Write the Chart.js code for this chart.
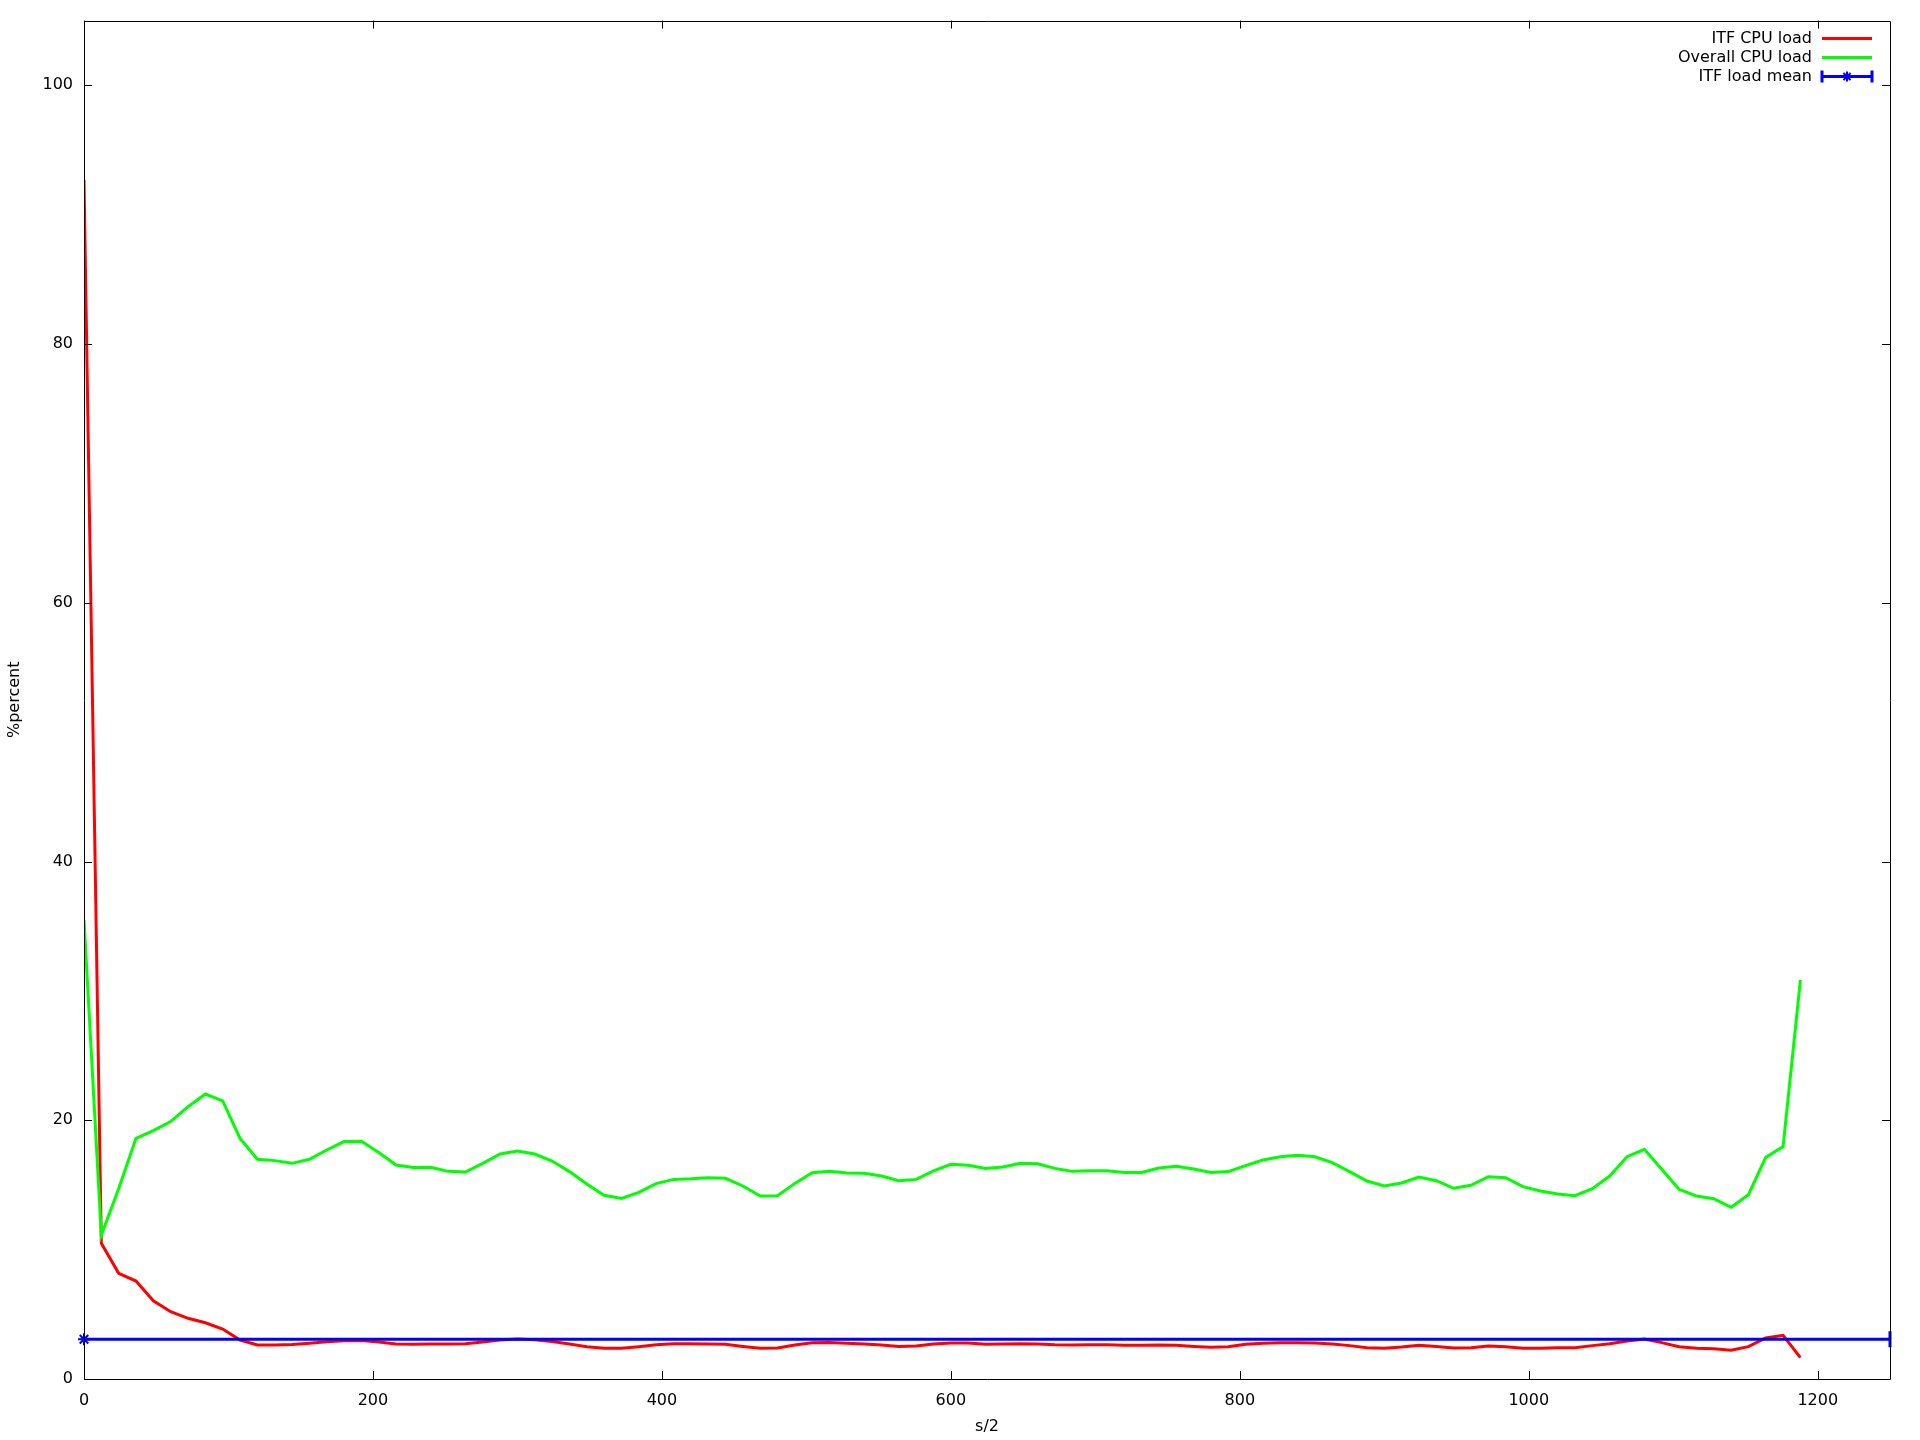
<!DOCTYPE html>
<html>
<head>
<meta charset="utf-8">
<script src="https://cdn.jsdelivr.net/npm/chart.js@4.4.1/dist/chart.umd.min.js"></script>
<style>
  body { margin: 0; background: #fff; }
</style>
</head>
<body>
<canvas id="chart" width="1920" height="1440"></canvas>
<script>
// sample positions (s/2)
const samples = [
  0, 12, 24, 36, 48, 60, 72, 84, 96, 108, 120, 132, 144, 156, 168, 180, 192, 204, 216, 228,
  240, 252, 264, 276, 288, 300, 312, 324, 336, 348, 360, 372, 384, 396, 408, 420, 432, 444, 456, 468,
  480, 492, 504, 516, 528, 540, 552, 564, 576, 588, 600, 612, 624, 636, 648, 660, 672, 684, 696, 708,
  720, 732, 744, 756, 768, 780, 792, 804, 816, 828, 840, 852, 864, 876, 888, 900, 912, 924, 936, 948,
  960, 972, 984, 996, 1008, 1020, 1032, 1044, 1056, 1068, 1080, 1092, 1104, 1116, 1128, 1140, 1152, 1164, 1176, 1188
];

const itfLoad = [
  92.7, 10.49, 8.17, 7.57, 6.05, 5.2, 4.69, 4.35, 3.86, 3.01, 2.63, 2.63, 2.66, 2.76, 2.88, 2.96, 2.98, 2.86,
  2.71, 2.68, 2.71, 2.71, 2.73, 2.86, 3.01, 3.09, 3.04, 2.89, 2.71, 2.5, 2.37, 2.37, 2.5, 2.65,
  2.73, 2.73, 2.71, 2.68, 2.52, 2.37, 2.40, 2.63, 2.81, 2.83, 2.76, 2.71, 2.63, 2.52, 2.55, 2.71, 2.78,
  2.78, 2.68, 2.71, 2.73, 2.71, 2.65, 2.63, 2.65, 2.65, 2.60, 2.60, 2.63, 2.60, 2.52, 2.45, 2.50, 2.68,
  2.76, 2.81, 2.81, 2.78, 2.71, 2.58, 2.42, 2.37, 2.47, 2.60, 2.52, 2.40, 2.42, 2.55, 2.50, 2.37, 2.37,
  2.42, 2.42, 2.58, 2.73, 2.94, 3.09, 2.81, 2.50, 2.37, 2.34, 2.22, 2.50, 3.17, 3.38, 1.65
];

const overallLoad = [
  35.5, 11.13, 14.7, 18.6, 19.2, 19.9, 21.05, 22.03, 21.5, 18.6, 16.98, 16.88, 16.67, 16.98, 17.7, 18.35, 18.37, 17.5,
  16.54, 16.34, 16.36, 16.05, 16.0, 16.67, 17.39, 17.62, 17.39, 16.85, 16.03, 15.07, 14.2, 13.96, 14.43, 15.1,
  15.43, 15.48, 15.56, 15.51, 14.92, 14.15, 14.17, 15.12, 15.95, 16.05, 15.92, 15.9, 15.69, 15.33, 15.43, 16.08, 16.59,
  16.52, 16.28, 16.39, 16.67, 16.64, 16.28, 16.05, 16.1, 16.1, 15.97, 15.97, 16.31, 16.44, 16.23, 15.97, 16.03, 16.49,
  16.93, 17.18, 17.29, 17.18, 16.72, 16.03, 15.3, 14.92, 15.15, 15.61, 15.33, 14.74, 14.97, 15.64, 15.56, 14.87, 14.53,
  14.3, 14.17, 14.71, 15.69, 17.18, 17.75, 16.21, 14.66, 14.15, 13.94, 13.27, 14.25, 17.13, 17.96, 30.84
];

// mean line: drawn from x=0 across to the right edge
const meanX = [0, 1250];
const meanValue = 3.07;

const seriesLabels = ['ITF CPU load', 'Overall CPU load', 'ITF load mean'];
const seriesColors = ['#ff0000', '#00ff00', '#0000ff'];

const FONT = '"DejaVu Sans", sans-serif';

// gnuplot-ish frame, inward ticks on all four sides, and the key
const gnuplotFrame = {
  id: 'gnuplotFrame',
  afterDraw(chart) {
    const ctx = chart.ctx;
    const a = chart.chartArea;
    const xs = chart.scales.x, ys = chart.scales.y;
    const tl = 8;
    ctx.save();
    ctx.strokeStyle = '#000';
    ctx.lineWidth = 1;
    ctx.beginPath();
    ctx.rect(Math.round(a.left) + 0.5, Math.round(a.top) + 0.5, Math.round(a.right - a.left), Math.round(a.bottom - a.top));
    xs.ticks.forEach(t => {
      const px = Math.round(xs.getPixelForValue(t.value)) + 0.5;
      ctx.moveTo(px, a.bottom); ctx.lineTo(px, a.bottom - tl);
      ctx.moveTo(px, a.top); ctx.lineTo(px, a.top + tl);
    });
    ys.ticks.forEach(t => {
      const py = Math.round(ys.getPixelForValue(t.value)) + 0.5;
      ctx.moveTo(a.left, py); ctx.lineTo(a.left + tl, py);
      ctx.moveTo(a.right, py); ctx.lineTo(a.right - tl, py);
    });
    ctx.stroke();

    // key
    ctx.font = '16px ' + FONT;
    ctx.textAlign = 'right';
    ctx.textBaseline = 'middle';
    const textRight = a.right - 78;
    const x1 = a.right - 68, x2 = a.right - 18;
    chart.data.datasets.forEach((ds, i) => {
      const y = a.top + 18 + i * 19;
      ctx.fillStyle = '#000';
      ctx.fillText(ds.label, textRight, y);
      ctx.strokeStyle = ds.borderColor;
      ctx.lineWidth = 3;
      ctx.beginPath();
      ctx.moveTo(x1, y); ctx.lineTo(x2, y);
      if (i === 2) {
        ctx.moveTo(x1, y - 6); ctx.lineTo(x1, y + 6);
        ctx.moveTo(x2, y - 6); ctx.lineTo(x2, y + 6);
      }
      ctx.stroke();
      if (i === 2) {
        ctx.lineWidth = 2;
        Chart.helpers.drawPoint(ctx, {pointStyle: 'star', radius: 5, rotation: 0, borderWidth: 2}, (x1 + x2) / 2, y);
      }
    });
    ctx.restore();
  }
};

new Chart(document.getElementById('chart'), {
  type: 'line',
  data: {
    datasets: [
      {
        label: seriesLabels[0],
        data: samples.map((x, i) => ({x: x, y: itfLoad[i]})),
        borderColor: seriesColors[0],
        borderWidth: 3,
        pointRadius: 0,
        tension: 0,
        order: 2
      },
      {
        label: seriesLabels[1],
        data: samples.map((x, i) => ({x: x, y: overallLoad[i]})),
        borderColor: seriesColors[1],
        borderWidth: 3,
        pointRadius: 0,
        tension: 0,
        order: 1
      },
      {
        label: seriesLabels[2],
        data: meanX.map(x => ({x: x, y: meanValue})),
        borderColor: seriesColors[2],
        backgroundColor: seriesColors[2],
        borderWidth: 3,
        pointStyle: ['star', 'line'],
        pointRotation: [0, 90],
        pointRadius: [6, 8],
        pointBorderWidth: [2, 3],
        pointBorderColor: seriesColors[2],
        clip: false,
        order: 0
      }
    ]
  },
  plugins: [gnuplotFrame],
  options: {
    responsive: false,
    animation: false,
    devicePixelRatio: 1,
    layout: {
      padding: {top: 20, right: 30, left: 0, bottom: 0}
    },
    plugins: {
      legend: {display: false},
      tooltip: {enabled: false}
    },
    scales: {
      x: {
        type: 'linear',
        min: 0,
        max: 1250,
        border: {display: false},
        grid: {display: false, drawTicks: false},
        ticks: {
          stepSize: 200,
          includeBounds: false,
          padding: 12,
          color: '#000',
          font: {family: FONT, size: 16},
          maxRotation: 0,
          callback: v => String(v)
        },
        title: {
          display: true,
          text: 's/2',
          color: '#000',
          font: {family: FONT, size: 16},
          padding: {top: 0, bottom: 4}
        },
        afterFit: s => { s.height = 61; }
      },
      y: {
        type: 'linear',
        min: 0,
        max: 105,
        border: {display: false},
        grid: {display: false, drawTicks: false},
        ticks: {
          stepSize: 20,
          includeBounds: false,
          padding: 11,
          color: '#000',
          font: {family: FONT, size: 16},
          callback: v => String(v)
        },
        title: {
          display: true,
          text: '%percent',
          color: '#000',
          font: {family: FONT, size: 16},
          padding: {top: 5, bottom: 0}
        },
        afterFit: s => { s.width = 84; }
      }
    }
  }
});
</script>
</body>
</html>
